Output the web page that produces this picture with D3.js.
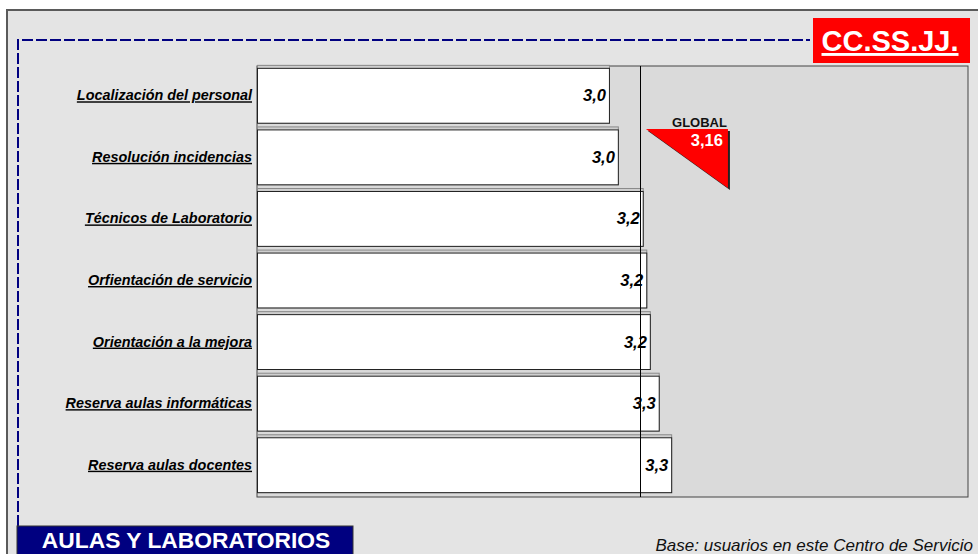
<!DOCTYPE html>
<html>
<head>
<meta charset="utf-8">
<script src="https://cdn.jsdelivr.net/npm/d3@7"></script>
<style>
  html, body { margin: 0; padding: 0; background: #ffffff; }
  svg { display: block; font-family: "Liberation Sans", Arial, sans-serif; }
</style>
</head>
<body>
<svg id="chart" width="978" height="554"></svg>
<script>
// Satisfaction items for this service centre (scale 1 to 5)
const categories = [
  "Localización del personal",
  "Resolución incidencias",
  "Técnicos de Laboratorio",
  "Orfientación de servicio",
  "Orientación a la mejora",
  "Reserva aulas informáticas",
  "Reserva aulas docentes"
];
const scores = [2.98, 3.03, 3.17, 3.19, 3.21, 3.26, 3.33];
const globalScore = 3.16;
const scaleRange = [1, 5];
const centreName = "CC.SS.JJ.";
const sectionName = "AULAS Y LABORATORIOS";
const baseNote = "Base: usuarios en este Centro de Servicio";

const svg = d3.select("#chart");
const fmt1 = v => d3.format(".1f")(v).replace(".", ",");
const fmt2 = v => d3.format(".2f")(v).replace(".", ",");

// Outer panel
svg.append("rect")
  .attr("x", 7).attr("y", 10).attr("width", 980).attr("height", 560)
  .attr("fill", "#e4e4e4").attr("stroke", "#5a5a5a").attr("stroke-width", 2);

// Dashed frame (top and left)
svg.append("path")
  .attr("d", "M18,526 L18,40 L810,40")
  .attr("fill", "none").attr("stroke", "#000080").attr("stroke-width", 2)
  .attr("stroke-dasharray", "11,3");

// Plot area
const plot = { left: 257, right: 968, top: 66, bottom: 497 };
svg.append("rect")
  .attr("x", plot.left).attr("y", plot.top)
  .attr("width", plot.right - plot.left).attr("height", plot.bottom - plot.top)
  .attr("fill", "#dadada").attr("stroke", "#444").attr("stroke-width", 1);

const x = d3.scaleLinear().domain(scaleRange).range([plot.left, plot.right]);
const y = d3.scaleBand().domain(categories).range([plot.top, plot.bottom]).paddingInner(0.06).paddingOuter(0.03);

const rows = categories.map((c, i) => ({ c, v: scores[i] }));

// Bars: shadow layer then white face
const g = svg.append("g");
g.selectAll("rect.shadow").data(rows).join("rect")
  .attr("class", "shadow")
  .attr("x", x(scaleRange[0]) + 0.5)
  .attr("y", d => y(d.c) - 3 + 0.5)
  .attr("width", d => x(d.v) - x(scaleRange[0]))
  .attr("height", y.bandwidth())
  .attr("fill", "#cfcfcf").attr("stroke", "#8a8a8a").attr("stroke-width", 1);

g.selectAll("rect.bar").data(rows).join("rect")
  .attr("class", "bar")
  .attr("x", x(scaleRange[0]) + 0.5)
  .attr("y", d => y(d.c) + 0.5)
  .attr("width", d => x(d.v) - x(scaleRange[0]))
  .attr("height", y.bandwidth() - 3)
  .attr("fill", "#ffffff").attr("stroke", "#222").attr("stroke-width", 1);

// Global reference line
const gxLine = Math.floor(x(globalScore)) + 0.5;
svg.append("line")
  .attr("x1", gxLine).attr("x2", gxLine)
  .attr("y1", plot.top).attr("y2", plot.bottom)
  .attr("stroke", "#000").attr("stroke-width", 1);

// Value labels
g.selectAll("text.val").data(rows).join("text")
  .attr("class", "val")
  .attr("x", d => x(d.v) - 3)
  .attr("y", d => y(d.c) + (y.bandwidth() - 3) / 2 + 6)
  .attr("text-anchor", "end")
  .attr("font-size", 16.5).attr("font-weight", "bold").attr("font-style", "italic")
  .attr("fill", "#000")
  .text(d => fmt1(d.v));

// Category labels
svg.append("g").selectAll("text").data(rows).join("text")
  .attr("x", plot.left - 5)
  .attr("y", d => y(d.c) + (y.bandwidth() - 3) / 2 + 5)
  .attr("text-anchor", "end")
  .attr("font-size", 14.4).attr("font-weight", "bold").attr("font-style", "italic")
  .attr("text-decoration", "underline")
  .attr("fill", "#000")
  .text(d => d.c);

// Global marker
const gx = x(globalScore);
const marker = svg.append("g");
const tri = `M${gx + 5},129 L${gx + 87},129 L${gx + 87},188 Z`;
marker.append("path").attr("d", tri).attr("transform", "translate(2,2)").attr("fill", "#222");
marker.append("path").attr("d", tri).attr("fill", "#ff0000");
marker.append("text")
  .attr("x", gx + 86).attr("y", 127).attr("text-anchor", "end")
  .attr("font-size", 13).attr("font-weight", "bold").attr("fill", "#111")
  .text("GLOBAL");
marker.append("text")
  .attr("x", gx + 82).attr("y", 146).attr("text-anchor", "end")
  .attr("font-size", 16.5).attr("font-weight", "bold").attr("fill", "#fff")
  .text(fmt2(globalScore));

// Centre badge
svg.append("rect").attr("x", 813).attr("y", 18).attr("width", 157).attr("height", 45).attr("fill", "#ff0000");
svg.append("text")
  .attr("x", 890).attr("y", 51).attr("text-anchor", "middle")
  .attr("font-size", 29).attr("font-weight", "bold").attr("fill", "#fff")
  .attr("text-decoration", "underline")
  .text(centreName);

// Section banner
svg.append("rect").attr("x", 17).attr("y", 526).attr("width", 336).attr("height", 40)
  .attr("fill", "#000080").attr("stroke", "#333").attr("stroke-width", 1);
svg.append("text")
  .attr("x", 186).attr("y", 548).attr("text-anchor", "middle")
  .attr("font-size", 22.8).attr("font-weight", "bold").attr("fill", "#fff")
  .text(sectionName);

// Base note
svg.append("text")
  .attr("x", 973).attr("y", 551).attr("text-anchor", "end")
  .attr("font-size", 17).attr("font-style", "italic").attr("fill", "#111")
  .text(baseNote);
</script>
</body>
</html>
